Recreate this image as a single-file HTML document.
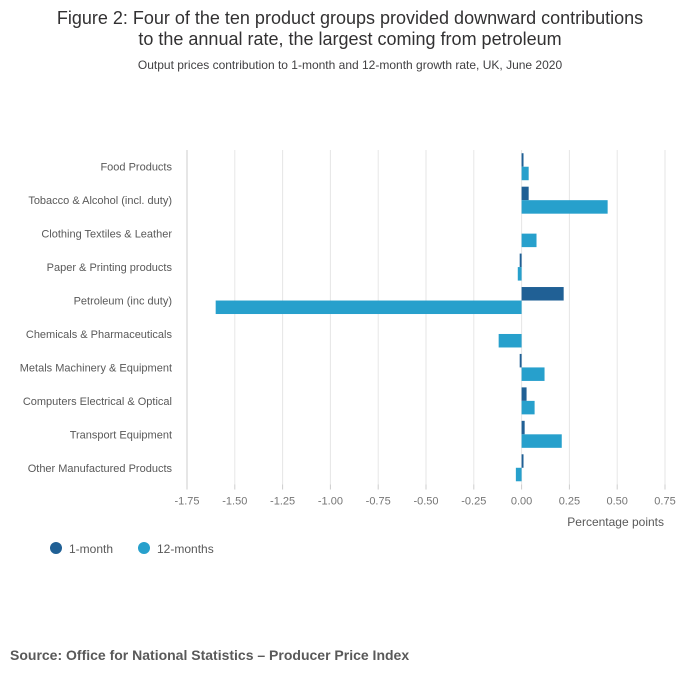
<!DOCTYPE html>
<html><head><meta charset="utf-8"><style>
body{margin:0;background:#fff;font-family:"Liberation Sans",sans-serif;}
svg text{font-family:"Liberation Sans",sans-serif;}
</style></head><body>
<svg width="700" height="682" xmlns="http://www.w3.org/2000/svg">
<text x="350" y="24" text-anchor="middle" font-size="18" fill="#323132">Figure 2: Four of the ten product groups provided downward contributions</text>
<text x="350" y="45" text-anchor="middle" font-size="18" fill="#323132">to the annual rate, the largest coming from petroleum</text>
<text x="350" y="69" text-anchor="middle" font-size="12" fill="#414042">Output prices contribution to 1-month and 12-month growth rate, UK, June 2020</text>
<g id="plot"></g>
<text x="664" y="526" text-anchor="end" font-size="12" fill="#595959">Percentage points</text>
<g>
<circle cx="56" cy="548" r="6" fill="#206095"/>
<text x="69" y="553" font-size="12" fill="#595959">1-month</text>
<circle cx="144" cy="548" r="6" fill="#27a0cc"/>
<text x="157" y="553" font-size="12" fill="#595959">12-months</text>
</g>
<text x="10" y="660" font-size="14" font-weight="bold" fill="#595959">Source: Office for National Statistics – Producer Price Index</text>
</svg>
<script>
const categories=["Food Products","Tobacco & Alcohol (incl. duty)","Clothing Textiles & Leather","Paper & Printing products","Petroleum (inc duty)","Chemicals & Pharmaceuticals","Metals Machinery & Equipment","Computers Electrical & Optical","Transport Equipment","Other Manufactured Products"];
const oneMonth=[0.01,0.037,0,-0.01,0.22,0,-0.01,0.026,0.016,0.01];
const twelveMonths=[0.037,0.45,0.078,-0.02,-1.6,-0.12,0.12,0.068,0.21,-0.03];
const ticks=[-1.75,-1.5,-1.25,-1,-0.75,-0.5,-0.25,0,0.25,0.5,0.75];
const tickLabels=["-1.75","-1.50","-1.25","-1.00","-0.75","-0.50","-0.25","0.00","0.25","0.50","0.75"];
const NS="http://www.w3.org/2000/svg";
const plotG=document.getElementById('plot');
const x0=187,x1=665,plotTop=150,band=33.45;
const xs=v=>x0+(v-ticks[0])/(ticks[ticks.length-1]-ticks[0])*(x1-x0);
const plotBottom=plotTop+band*categories.length;
function mk(t,a){const e=document.createElementNS(NS,t);for(const k in a)e.setAttribute(k,a[k]);plotG.appendChild(e);return e;}
ticks.forEach((t,i)=>{
 const l=mk('line',{x1:xs(t),x2:xs(t),y1:plotTop,y2:plotBottom,stroke:'#e6e6e6','stroke-width':1});
 
 
 const tk=mk('line',{x1:xs(t),x2:xs(t),y1:plotBottom,y2:plotBottom+5,stroke:'#ccc'});
 
 
 const tx=mk('text',{x:xs(t),y:plotBottom+20,'text-anchor':'middle','font-size':11,fill:'#757575'});
 tx.textContent=tickLabels[i];
 
 
});
const ax=mk('line',{x1:x0,x2:x0,y1:plotTop,y2:plotBottom,stroke:'#ccc'});


const bh=13.5;
categories.forEach((c,i)=>{
 const cy=plotTop+band*(i+0.5);
 const tx=mk('text',{x:172,y:cy+4,'text-anchor':'end','font-size':11,fill:'#595959'});
 tx.textContent=c;
 
 
 const a=oneMonth[i],b=twelveMonths[i];
 const r1=mk('rect',{x:Math.min(xs(0),xs(a)),y:cy-bh,width:Math.abs(xs(a)-xs(0)),height:bh,fill:'#206095'});
 
 
 const r2=mk('rect',{x:Math.min(xs(0),xs(b)),y:cy,width:Math.abs(xs(b)-xs(0)),height:bh,fill:'#27a0cc'});
 
 
});
</script>
</body></html>
